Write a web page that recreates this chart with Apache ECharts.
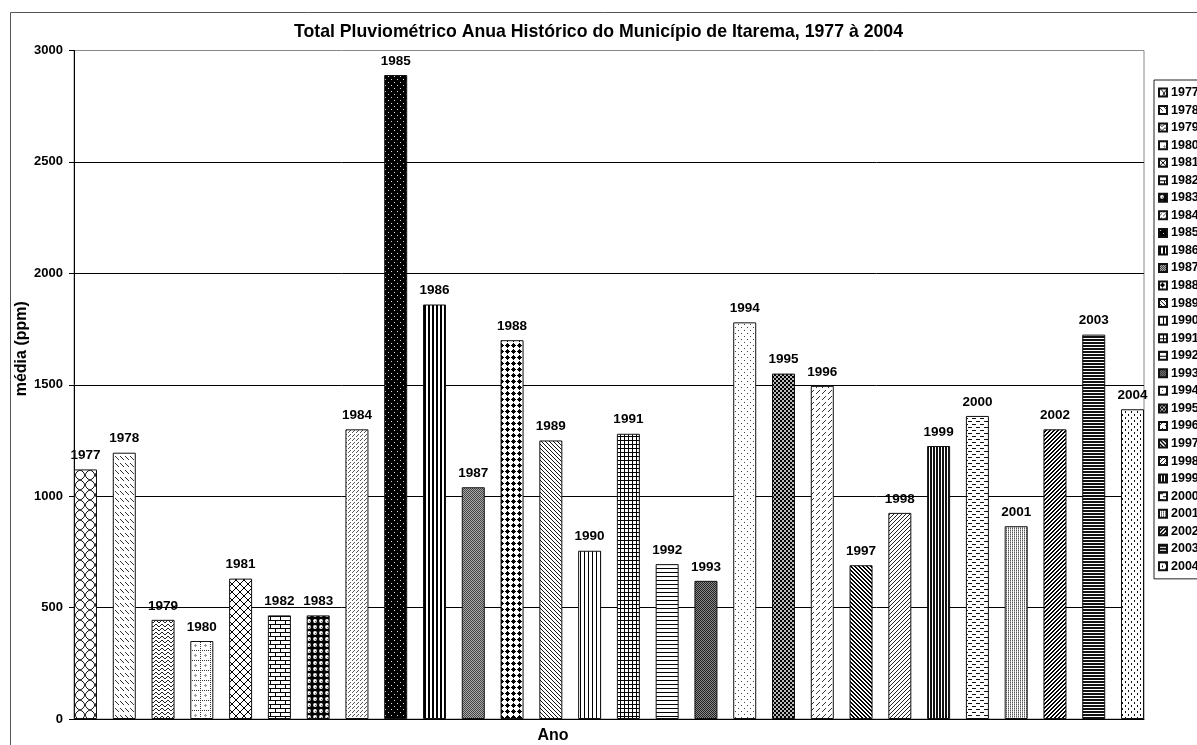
<!DOCTYPE html>
<html>
<head>
<meta charset="utf-8">
<script src="https://cdn.jsdelivr.net/npm/echarts@6/dist/echarts.min.js"></script>
<style>
  html, body { margin: 0; padding: 0; background: #fff; }
  #chart { width: 1197px; height: 745px; }
</style>
</head>
<body>
<div id="chart"></div>
<script>
// Annual rainfall totals, Itarema, 1977-2004
const years = ['1977','1978','1979','1980','1981','1982','1983','1984','1985','1986',
               '1987','1988','1989','1990','1991','1992','1993','1994','1995','1996',
               '1997','1998','1999','2000','2001','2002','2003','2004'];
const rainfall = [1120, 1195, 445, 350, 630, 465, 465, 1300, 2890, 1860,
                  1040, 1700, 1250, 755, 1280, 695, 620, 1780, 1550, 1495,
                  690, 925, 1225, 1360, 865, 1300, 1725, 1390];
const yMin = 0, yMax = 3000, yStep = 500;

const FONT = "'Liberation Sans', Arial, sans-serif";

// ---- monochrome fill patterns (one per year) ----
function tile(w, h, bg, draw) {
  const c = document.createElement('canvas');
  c.width = w; c.height = h;
  const g = c.getContext('2d');
  g.fillStyle = bg; g.fillRect(0, 0, w, h);
  g.fillStyle = '#000'; g.strokeStyle = '#000';
  draw(g, w, h);
  return c;
}
function px(g, pts, color) {
  g.fillStyle = color || '#000';
  pts.forEach(p => g.fillRect(p[0], p[1], 1, 1));
}
function range(n) { return Array.from({ length: n }, (_, i) => i); }

const patternMakers = [
  // 1977 wavy crosshatch
  () => tile(10, 10, '#fff', g => {
    g.lineWidth = 1;
    g.beginPath();
    g.moveTo(0, 0); g.bezierCurveTo(6, 2, 4, 8, 10, 10);
    g.moveTo(10, 0); g.bezierCurveTo(4, 2, 6, 8, 0, 10);
    g.stroke();
  }),
  // 1978 dashed downward diagonal
  () => tile(5, 7, '#fff', g => px(g, [[0,1],[1,2],[2,3],[3,4]], '#333')),
  // 1979 zigzag
  () => tile(6, 4, '#fff', g => px(g, [[0,0],[1,1],[2,2],[3,2],[4,1],[5,0]], '#222')),
  // 1980 dotted grid
  () => tile(10, 10, '#fff', g => {
    px(g, range(5).map(i => [i * 2, 0]), '#333');
    px(g, range(5).map(i => [0, i * 2]), '#333');
    px(g, [[5,4],[5,5],[5,6],[4,5],[6,5]], '#999');
  }),
  // 1981 diagonal crosshatch
  () => tile(8, 8, '#fff', g => px(g, range(8).flatMap(i => [[i,i],[7-i,i]]), '#000')),
  // 1982 bricks
  () => tile(10, 8, '#fff', g => {
    px(g, range(10).flatMap(i => [[i,0],[i,4]]), '#000');
    px(g, [[0,1],[0,2],[0,3],[5,5],[5,6],[5,7]], '#000');
  }),
  // 1983 spheres
  () => tile(6, 6, '#000', g => {
    g.fillStyle = '#fff'; g.beginPath(); g.arc(3, 3, 1.9, 0, Math.PI * 2); g.fill();
    px(g, [[3,3]], '#666');
  }),
  // 1984 light stipple
  () => tile(4, 4, '#fff', g => px(g, [[0,0],[2,2],[1,3]], '#555')),
  // 1985 black with white dots
  () => tile(6, 6, '#000', g => px(g, [[1,1],[4,4]], '#ddd')),
  // 1986 vertical bars
  () => tile(4, 1, '#fff', g => px(g, [[0,0],[1,0]], '#000')),
  // 1987 50% gray
  () => tile(2, 2, '#aaa', g => px(g, [[0,0],[1,1]], '#444')),
  // 1988 solid diamonds
  () => tile(6, 6, '#fff', g => px(g, [[3,1],[2,2],[3,2],[4,2],[1,3],[2,3],[3,3],[4,3],[5,3],[2,4],[3,4],[4,4],[3,5]], '#000')),
  // 1989 light downward diagonal
  () => tile(4, 4, '#fff', g => px(g, range(4).map(i => [i,i]), '#111')),
  // 1990 light vertical
  () => tile(4, 1, '#fff', g => px(g, [[0,0]], '#000')),
  // 1991 small grid
  () => tile(4, 4, '#fff', g => px(g, range(4).flatMap(i => [[i,0],[0,i]]), '#000')),
  // 1992 light horizontal
  () => tile(1, 4, '#fff', g => px(g, [[0,0]], '#000')),
  // 1993 dark gray
  () => tile(2, 2, '#888', g => px(g, [[0,0],[1,1]], '#222')),
  // 1994 sparse dots
  () => tile(6, 6, '#fff', g => px(g, [[0,0],[3,3]], '#444')),
  // 1995 checkerboard
  () => tile(4, 4, '#bbb', g => {
    g.fillStyle = '#000'; g.fillRect(0, 0, 2, 2); g.fillRect(2, 2, 2, 2);
  }),
  // 1996 dashed upward diagonal
  () => tile(6, 6, '#fff', g => px(g, [[0,3],[1,2],[2,1],[3,0]], '#333')),
  // 1997 dark downward diagonal
  () => tile(4, 4, '#fff', g => px(g, range(4).flatMap(i => [[i,i],[(i+1)%4,i]]), '#000')),
  // 1998 light upward diagonal
  () => tile(4, 4, '#fff', g => px(g, range(4).map(i => [3-i,i]), '#222')),
  // 1999 dark vertical
  () => tile(3, 1, '#fff', g => px(g, [[0,0],[1,0]], '#111')),
  // 2000 dashed horizontal
  () => tile(8, 6, '#fff', g => px(g, [[0,1],[1,1],[2,1],[3,1],[4,4],[5,4],[6,4],[7,4]], '#111')),
  // 2001 light vertical stipple
  () => tile(2, 2, '#fff', g => { px(g, [[0,0]], '#555'); px(g, [[0,1]], '#aaa'); }),
  // 2002 dark upward diagonal
  () => tile(4, 4, '#fff', g => px(g, range(4).flatMap(i => [[3-i,i],[(4-i)%4,i]]), '#000')),
  // 2003 dark horizontal
  () => tile(1, 3, '#fff', g => px(g, [[0,0],[0,1]], '#111')),
  // 2004 dashed vertical
  () => tile(6, 6, '#fff', g => px(g, [[0,0],[0,1],[3,3],[3,4]], '#111'))
];

const series = years.map((yr, i) => ({
  name: yr,
  type: 'bar',
  xAxisIndex: 1,
  yAxisIndex: 1,
  stack: 'ano',
  barWidth: 23,
  data: years.map((_, j) => (j === i ? rainfall[i] : '-')),
  itemStyle: {
    color: { image: patternMakers[i](), repeat: 'repeat' },
    borderColor: '#111',
    borderWidth: 1
  },
  label: {
    show: true,
    position: 'top',
    distance: 7,
    formatter: '{a}',
    color: '#000',
    fontFamily: FONT,
    fontWeight: 'bold',
    fontSize: 13.5
  },
  emphasis: { disabled: true },
  animation: false
}));

const chart = echarts.init(document.getElementById('chart'), null, { renderer: 'canvas' });
chart.setOption({
  backgroundColor: '#fff',
  animation: false,
  title: {
    text: 'Total Pluviométrico Anua Histórico do Município de Itarema, 1977 à 2004',
    left: 'center',
    top: 23,
    padding: 0,
    textStyle: { fontFamily: FONT, fontWeight: 'bold', fontSize: 17.7, color: '#000' }
  },
  legend: {
    orient: 'vertical',
    left: 1154,
    top: 80,
    padding: [6, 30, 6, 4],
    icon: 'rect',
    itemWidth: 8,
    itemHeight: 8,
    itemGap: 4.55,
    borderColor: '#222',
    borderWidth: 1,
    backgroundColor: '#fff',
    data: years,
    selectedMode: false,
    textStyle: { fontFamily: FONT, fontWeight: 'bold', fontSize: 12.5, color: '#000', lineHeight: 12, padding: [0, 0, 0, -1] }
  },
  graphic: [{
    type: 'rect',
    silent: true,
    shape: { x: 10.5, y: 12.5, width: 1400, height: 1000 },
    style: { fill: null, stroke: '#555', lineWidth: 1 },
    z: -1
  }],
  grid: [
    { left: 74, right: 53, top: 50.5, bottom: 26, outerBoundsMode: 'none', containLabel: false,
      show: true, borderColor: '#888', borderWidth: 1, backgroundColor: '#fff' },
    { left: 66.1, right: 45.1, top: 50.5, bottom: 26, outerBoundsMode: 'none', containLabel: false }
  ],
  xAxis: [
    {
      type: 'category', gridIndex: 0, data: years,
      axisLine: { lineStyle: { color: '#000', width: 1 } },
      axisTick: { show: false },
      axisLabel: { show: false },
      name: 'Ano',
      nameLocation: 'middle',
      nameGap: 9,
      nameMoveOverlap: false,
      nameTextStyle: { fontFamily: FONT, fontWeight: 'bold', fontSize: 16, color: '#000', padding: [0, 112, 0, 0] }
    },
    { type: 'category', gridIndex: 1, data: years, show: false }
  ],
  yAxis: [
    {
      type: 'value', gridIndex: 0, min: yMin, max: yMax, interval: yStep,
      axisLine: { show: true, lineStyle: { color: '#000', width: 1 } },
      axisTick: { show: true, length: 5, lineStyle: { color: '#000' } },
      axisLabel: { margin: 11, color: '#000', fontFamily: FONT, fontWeight: 'bold', fontSize: 13, formatter: v => String(v) },
      splitLine: { show: true, showMaxLine: false, lineStyle: { color: '#000', width: 1 } },
      name: 'média (ppm)',
      nameLocation: 'middle',
      nameGap: 44,
      nameMoveOverlap: false,
      nameTextStyle: { fontFamily: FONT, fontWeight: 'bold', fontSize: 16, color: '#000', padding: [0, 0, 0, 72] }
    },
    { type: 'value', gridIndex: 1, min: yMin, max: yMax, interval: yStep, show: false }
  ],
  series: series
});
</script>
</body>
</html>
